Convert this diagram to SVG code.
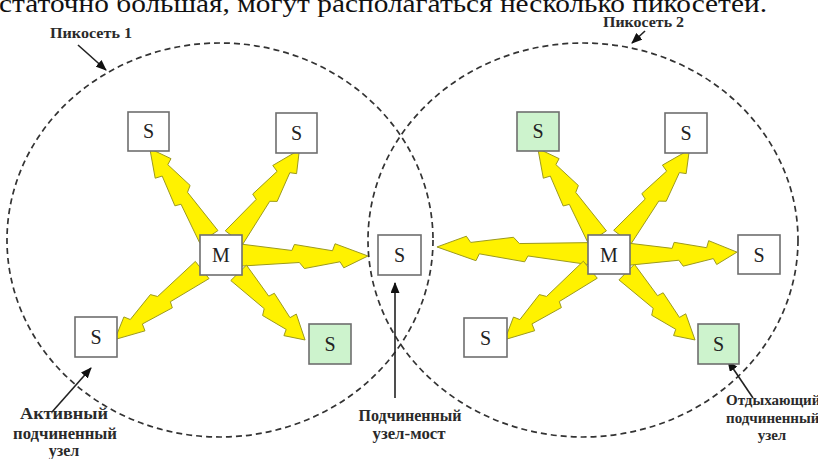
<svg xmlns="http://www.w3.org/2000/svg" width="818" height="459" viewBox="0 0 818 459">
<defs>
<style>
.bg{fill:#ffffff}
.circ{fill:none;stroke:#333;stroke-width:1.7;stroke-dasharray:6 4}
.bolt{fill:#fff200;stroke:#9c9a1e;stroke-width:1;stroke-linejoin:miter}
.box{fill:#ffffff;stroke:#6e6e6e;stroke-width:1.6}
.green{fill:#cdf3cd}
.lbl{font-family:"Liberation Serif","Times New Roman",serif;font-size:20px;fill:#222;text-anchor:middle}
.ann{stroke:#222;stroke-width:1.6;fill:none}
.cap{font-family:"Liberation Serif","Times New Roman",serif;font-weight:bold;fill:#2a2a2a}
.top{font-family:"Liberation Serif","Times New Roman",serif;font-size:25px;fill:#111}
</style>
<path id="boltShape" vector-effect="non-scaling-stroke" d="M0,-11 L40,-5 L42,-11 L72,-5 L74,-12 L100,0 L81,12 L78,6 L50,13 L46,7 L0,11 Z"/>
<marker id="ah" markerUnits="userSpaceOnUse" markerWidth="11" markerHeight="9" refX="10" refY="4.5" orient="auto">
<path d="M0,0 L11,4.5 L0,9 Z" fill="#111"/>
</marker>
</defs>
<rect class="bg" x="0" y="0" width="818" height="459"/>
<text class="top" x="-1" y="12" textLength="768" lengthAdjust="spacingAndGlyphs">статочно большая, могут располагаться несколько пикосетей.</text>

<g id="piconet1">
<ellipse class="circ" cx="220" cy="240" rx="213" ry="197"/>
</g>
<g id="piconet2">
<ellipse class="circ" cx="583" cy="240" rx="215" ry="197"/>
</g>

<g id="connectors">
<g class="bolt">
<use href="#boltShape" transform="translate(208.8,236.7) rotate(-123.8) scale(1.06,1)"/>
<use href="#boltShape" transform="translate(234.1,237.4) rotate(-53.3) scale(1.092,1)"/>
<use href="#boltShape" transform="translate(241,255.1) rotate(0.4) scale(1.27,1)"/>
<use href="#boltShape" transform="translate(202.2,270) rotate(141.5) scale(1.117,1)"/>
<use href="#boltShape" transform="translate(238.6,272.8) rotate(45.3) scale(0.945,1)"/>
<use href="#boltShape" transform="translate(597.3,237) rotate(-123.9) scale(1.066,1)"/>
<use href="#boltShape" transform="translate(622.4,237) rotate(-52.5) scale(1.1,1)"/>
<use href="#boltShape" transform="translate(589,253.6) rotate(-177.5) scale(1.522,1)"/>
<use href="#boltShape" transform="translate(629,254.2) rotate(-1.1) scale(1.08,1)"/>
<use href="#boltShape" transform="translate(590.3,269.7) rotate(140.7) scale(1.104,1)"/>
<use href="#boltShape" transform="translate(626.7,272.1) rotate(44.8) scale(0.963,1)"/>
</g>
<line class="ann" x1="78" y1="45" x2="106" y2="70" marker-end="url(#ah)"/>
<line class="ann" x1="645" y1="31" x2="632" y2="43" marker-end="url(#ah)"/>
<line class="ann" x1="395" y1="398" x2="395" y2="283" marker-end="url(#ah)"/>
<line class="ann" x1="52" y1="412" x2="91" y2="368" marker-end="url(#ah)"/>
<line class="ann" x1="753" y1="398" x2="728" y2="361" marker-end="url(#ah)"/>
</g>

<g id="node-s1"><rect class="box" x="128" y="112" width="41" height="39"/><text class="lbl" x="148.5" y="138">S</text></g>
<g id="node-s2"><rect class="box" x="276" y="113" width="41" height="40"/><text class="lbl" x="296.5" y="140">S</text></g>
<g id="node-m1"><rect class="box" x="200" y="235" width="42" height="40"/><text class="lbl" x="221" y="262">M</text></g>
<g id="node-bridge"><rect class="box" x="378" y="235" width="43" height="40"/><text class="lbl" x="399.5" y="262">S</text></g>
<g id="node-s4"><rect class="box" x="75" y="317" width="42" height="40"/><text class="lbl" x="96" y="344">S</text></g>
<g id="node-s5"><rect class="box green" x="309" y="324" width="42" height="40"/><text class="lbl" x="330" y="351">S</text></g>
<g id="node-r1"><rect class="box green" x="517" y="112" width="42" height="39"/><text class="lbl" x="538" y="138">S</text></g>
<g id="node-r2"><rect class="box" x="665" y="113" width="42" height="40"/><text class="lbl" x="686" y="140">S</text></g>
<g id="node-m2"><rect class="box" x="588" y="235" width="42" height="39"/><text class="lbl" x="609" y="262">M</text></g>
<g id="node-r3"><rect class="box" x="738" y="235" width="42" height="39"/><text class="lbl" x="759" y="262">S</text></g>
<g id="node-r4"><rect class="box" x="464" y="318" width="43" height="39"/><text class="lbl" x="485.5" y="345">S</text></g>
<g id="node-r5"><rect class="box green" x="698" y="324" width="41" height="40"/><text class="lbl" x="718.5" y="351">S</text></g>

<g id="label-p1"><text class="cap" x="50" y="38" font-size="15" textLength="82" lengthAdjust="spacingAndGlyphs">Пикосеть 1</text></g>
<g id="label-p2"><text class="cap" x="603" y="27" font-size="14" textLength="81" lengthAdjust="spacingAndGlyphs">Пикосеть 2</text></g>
<g id="label-active" class="cap" font-size="16" text-anchor="middle">
<text x="64" y="419" textLength="88" lengthAdjust="spacingAndGlyphs">Активный</text>
<text x="65" y="439" textLength="104" lengthAdjust="spacingAndGlyphs">подчиненный</text>
<text x="64" y="456">узел</text>
</g>
<g id="label-bridge" class="cap" font-size="16" text-anchor="middle">
<text x="410" y="421" textLength="103" lengthAdjust="spacingAndGlyphs">Подчиненный</text>
<text x="409" y="439" textLength="73" lengthAdjust="spacingAndGlyphs">узел-мост</text>
</g>
<g id="label-park" class="cap" font-size="15">
<text x="726" y="405">Отдыхающий</text>
<text x="726" y="423">подчиненный</text>
<text x="772" y="440" text-anchor="middle">узел</text>
</g>
</svg>
